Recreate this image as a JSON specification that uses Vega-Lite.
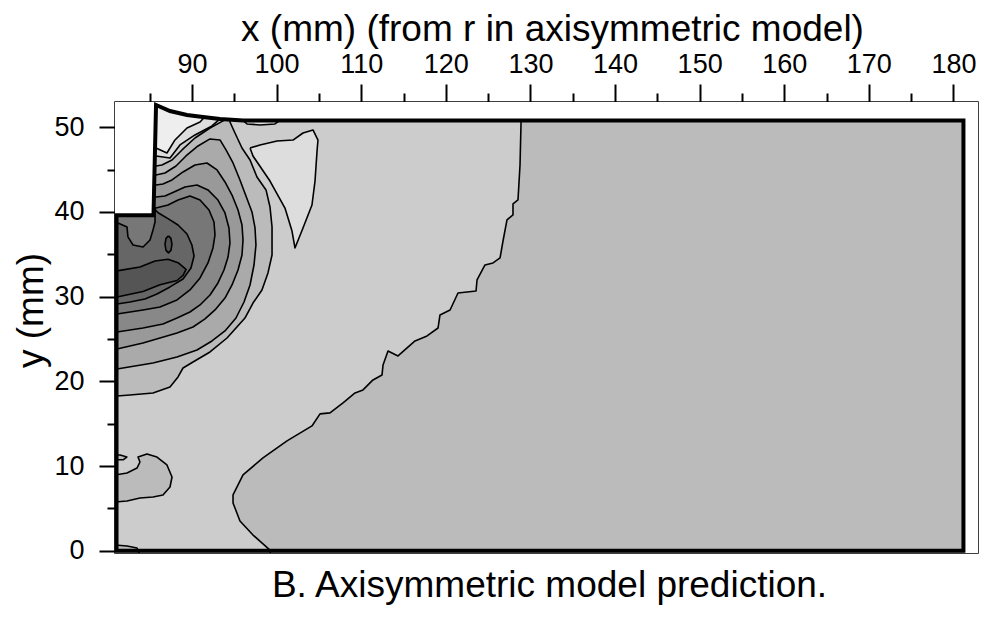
{
  "$schema": "https://vega.github.io/schema/vega-lite/v6.json",
  "width": 863,
  "height": 451,
  "autosize": {"type": "none"},
  "padding": {"left": 115, "top": 102, "right": 8, "bottom": 66},
  "background": "white",
  "title": {
    "text": "B. Axisymmetric model prediction.",
    "orient": "bottom",
    "anchor": "middle",
    "frame": "group",
    "offset": 4,
    "dx": 3,
    "font": "Liberation Sans",
    "fontSize": 37,
    "fontWeight": "normal",
    "color": "black"
  },
  "config": {
    "view": {"stroke": "black", "strokeWidth": 1.5},
    "axis": {
      "domain": false,
      "grid": false,
      "tickColor": "black",
      "tickWidth": 2,
      "labelFont": "Liberation Sans",
      "labelFontSize": 27,
      "labelColor": "black",
      "labelOverlap": false,
      "labelFlush": false,
      "titleFont": "Liberation Sans",
      "titleFontSize": 37,
      "titleFontWeight": "normal",
      "titleColor": "black"
    }
  },
  "data": {
    "values": [
      {"s":"base","k":0,"x":78,"y":-2},{"s":"base","k":1,"x":181.18,"y":-2},{"s":"base","k":2,"x":181.18,"y":52},{"s":"base","k":3,"x":78,"y":52},{"s":"base","k":4,"x":78,"y":-2},

      {"s":"L1","k":0,"x":79,"y":-2},{"s":"L1","k":1,"x":99.4,"y":-2},{"s":"L1","k":2,"x":99.22,"y":0.08},{"s":"L1","k":3,"x":97.21,"y":1.85},{"s":"L1","k":4,"x":95.67,"y":3.51},{"s":"L1","k":5,"x":94.85,"y":5.64},{"s":"L1","k":6,"x":94.85,"y":6.59},{"s":"L1","k":7,"x":96.03,"y":8.95},{"s":"L1","k":8,"x":98.39,"y":10.95},{"s":"L1","k":9,"x":101.23,"y":12.96},{"s":"L1","k":10,"x":104.18,"y":14.73},{"s":"L1","k":11,"x":105.13,"y":16.15},{"s":"L1","k":12,"x":106.31,"y":16.27},{"s":"L1","k":13,"x":107.85,"y":17.45},{"s":"L1","k":14,"x":109.27,"y":18.63},{"s":"L1","k":15,"x":110.21,"y":18.98},{"s":"L1","k":16,"x":111.39,"y":20.16},{"s":"L1","k":17,"x":112.46,"y":20.75},{"s":"L1","k":18,"x":112.58,"y":21.93},{"s":"L1","k":19,"x":113.17,"y":23.58},{"s":"L1","k":20,"x":114.35,"y":22.99},{"s":"L1","k":21,"x":116.36,"y":24.76},{"s":"L1","k":22,"x":117.78,"y":25.35},{"s":"L1","k":23,"x":119.08,"y":26.29},{"s":"L1","k":24,"x":119.31,"y":27.83},{"s":"L1","k":25,"x":120.5,"y":28.42},{"s":"L1","k":26,"x":121.44,"y":30.42},{"s":"L1","k":27,"x":123.57,"y":30.66},{"s":"L1","k":28,"x":123.69,"y":31.96},{"s":"L1","k":29,"x":124.63,"y":33.73},{"s":"L1","k":30,"x":125.58,"y":33.97},{"s":"L1","k":31,"x":126.41,"y":34.56},{"s":"L1","k":32,"x":126.76,"y":36.56},{"s":"L1","k":33,"x":127.23,"y":39.05},{"s":"L1","k":34,"x":127.94,"y":39.64},{"s":"L1","k":35,"x":127.94,"y":40.94},{"s":"L1","k":36,"x":128.53,"y":41.41},{"s":"L1","k":37,"x":128.77,"y":45.54},{"s":"L1","k":38,"x":128.89,"y":50.49},{"s":"L1","k":39,"x":128.9,"y":52},{"s":"L1","k":40,"x":79,"y":52},{"s":"L1","k":41,"x":79,"y":-2},

      {"s":"L2t","k":0,"x":96.86,"y":47.53},{"s":"L2t","k":1,"x":97.21,"y":46.59},{"s":"L2t","k":2,"x":99.22,"y":43.64},{"s":"L2t","k":3,"x":100.99,"y":40.45},{"s":"L2t","k":4,"x":101.82,"y":37.74},{"s":"L2t","k":5,"x":102.17,"y":35.74},{"s":"L2t","k":6,"x":103.12,"y":38.1},{"s":"L2t","k":7,"x":104.18,"y":40.81},{"s":"L2t","k":8,"x":104.54,"y":43.64},{"s":"L2t","k":9,"x":104.78,"y":47.18},{"s":"L2t","k":10,"x":104.89,"y":48.48},{"s":"L2t","k":11,"x":104.3,"y":49.67},{"s":"L2t","k":12,"x":103.12,"y":49.31},{"s":"L2t","k":13,"x":101.94,"y":48.48},{"s":"L2t","k":14,"x":100.05,"y":48.37},{"s":"L2t","k":15,"x":98.04,"y":47.9},{"s":"L2t","k":16,"x":96.86,"y":47.53},

      {"s":"L2l","k":0,"x":96.0,"y":51.5},{"s":"L2l","k":1,"x":96.03,"y":50.8},{"s":"L2l","k":2,"x":96.5,"y":50.38},{"s":"L2l","k":3,"x":98.04,"y":50.26},{"s":"L2l","k":4,"x":99.81,"y":50.38},{"s":"L2l","k":5,"x":100.4,"y":50.8},{"s":"L2l","k":6,"x":100.4,"y":51.5},{"s":"L2l","k":7,"x":96.0,"y":51.5},

      {"s":"L2b","k":0,"x":84,"y":46.6},{"s":"L2b","k":1,"x":85.74,"y":46.6},{"s":"L2b","k":2,"x":87.4,"y":46.36},{"s":"L2b","k":3,"x":88.58,"y":47.9},{"s":"L2b","k":4,"x":90.35,"y":49.08},{"s":"L2b","k":5,"x":92.36,"y":50.14},{"s":"L2b","k":6,"x":93.31,"y":50.97},{"s":"L2b","k":7,"x":93.5,"y":53},{"s":"L2b","k":8,"x":84,"y":53},{"s":"L2b","k":9,"x":84,"y":46.6},

      {"s":"r1","k":0,"x":79,"y":18.26},{"s":"r1","k":1,"x":81.13,"y":18.26},{"s":"r1","k":2,"x":82.67,"y":18.38},{"s":"r1","k":3,"x":85.39,"y":18.62},{"s":"r1","k":4,"x":87.4,"y":19.33},{"s":"r1","k":5,"x":88.35,"y":20.51},{"s":"r1","k":6,"x":88.94,"y":21.57},{"s":"r1","k":7,"x":90.12,"y":22.28},{"s":"r1","k":8,"x":92.13,"y":23.46},{"s":"r1","k":9,"x":94.14,"y":25.11},{"s":"r1","k":10,"x":96.26,"y":27.47},{"s":"r1","k":11,"x":97.21,"y":29.24},{"s":"r1","k":12,"x":98.27,"y":30.78},{"s":"r1","k":13,"x":98.98,"y":32.79},{"s":"r1","k":14,"x":99.46,"y":34.91},{"s":"r1","k":15,"x":99.46,"y":38.22},{"s":"r1","k":16,"x":99.22,"y":40.58},{"s":"r1","k":17,"x":98.75,"y":42.59},{"s":"r1","k":18,"x":97.68,"y":44.12},{"s":"r1","k":19,"x":96.86,"y":46.13},{"s":"r1","k":20,"x":95.91,"y":47.54},{"s":"r1","k":21,"x":95.08,"y":49.31},{"s":"r1","k":22,"x":94.49,"y":50.61},{"s":"r1","k":23,"x":94.5,"y":53},{"s":"r1","k":24,"x":93.7,"y":53},{"s":"r1","k":25,"x":93.78,"y":50.8},{"s":"r1","k":26,"x":92.13,"y":49.9},{"s":"r1","k":27,"x":90.35,"y":48.72},{"s":"r1","k":28,"x":88.82,"y":47.31},{"s":"r1","k":29,"x":87.64,"y":46.13},{"s":"r1","k":30,"x":86.45,"y":45.54},{"s":"r1","k":31,"x":85.74,"y":45.42},{"s":"r1","k":32,"x":79,"y":45.42},{"s":"r1","k":33,"x":79,"y":18.26},

      {"s":"r1a","k":0,"x":79,"y":8.94},{"s":"r1a","k":1,"x":80.9,"y":8.94},{"s":"r1a","k":2,"x":82.32,"y":9.17},{"s":"r1a","k":3,"x":83.5,"y":9.76},{"s":"r1a","k":4,"x":83.85,"y":10.47},{"s":"r1a","k":5,"x":83.62,"y":11.06},{"s":"r1a","k":6,"x":84.68,"y":11.42},{"s":"r1a","k":7,"x":85.86,"y":11.06},{"s":"r1a","k":8,"x":87.04,"y":10.12},{"s":"r1a","k":9,"x":87.64,"y":8.7},{"s":"r1a","k":10,"x":87.4,"y":7.52},{"s":"r1a","k":11,"x":86.57,"y":6.57},{"s":"r1a","k":12,"x":85.39,"y":6.34},{"s":"r1a","k":13,"x":83.85,"y":6.22},{"s":"r1a","k":14,"x":82.32,"y":5.87},{"s":"r1a","k":15,"x":80.9,"y":5.75},{"s":"r1a","k":16,"x":79,"y":5.75},{"s":"r1a","k":17,"x":79,"y":8.94},

      {"s":"r1b","k":0,"x":79,"y":11.3},{"s":"r1b","k":1,"x":81.5,"y":11.3},{"s":"r1b","k":2,"x":82.3,"y":11.06},{"s":"r1b","k":3,"x":81.9,"y":10.75},{"s":"r1b","k":4,"x":79,"y":10.71},{"s":"r1b","k":5,"x":79,"y":11.3},

      {"s":"r1c","k":0,"x":79,"y":0.67},{"s":"r1c","k":1,"x":80.9,"y":0.67},{"s":"r1c","k":2,"x":82.32,"y":0.55},{"s":"r1c","k":3,"x":83.5,"y":0.32},{"s":"r1c","k":4,"x":83.85,"y":-0.5},{"s":"r1c","k":5,"x":79,"y":-0.5},{"s":"r1c","k":6,"x":79,"y":0.67},

      {"s":"L3","k":0,"x":84,"y":47.54},{"s":"L3","k":1,"x":85.74,"y":47.54},{"s":"L3","k":2,"x":87.04,"y":46.95},{"s":"L3","k":3,"x":87.99,"y":48.49},{"s":"L3","k":4,"x":89.41,"y":49.9},{"s":"L3","k":5,"x":90.95,"y":50.6},{"s":"L3","k":6,"x":91.5,"y":51.2},{"s":"L3","k":7,"x":91.6,"y":53},{"s":"L3","k":8,"x":84,"y":53},{"s":"L3","k":9,"x":84,"y":47.54},

      {"s":"r2","k":0,"x":79,"y":21.45},{"s":"r2","k":1,"x":81.13,"y":21.45},{"s":"r2","k":2,"x":85.39,"y":22.16},{"s":"r2","k":3,"x":88.23,"y":22.87},{"s":"r2","k":4,"x":90.59,"y":23.7},{"s":"r2","k":5,"x":92.36,"y":24.76},{"s":"r2","k":6,"x":93.9,"y":25.94},{"s":"r2","k":7,"x":95.2,"y":27.47},{"s":"r2","k":8,"x":96.15,"y":29.36},{"s":"r2","k":9,"x":96.86,"y":31.37},{"s":"r2","k":10,"x":97.33,"y":33.73},{"s":"r2","k":11,"x":97.56,"y":36.09},{"s":"r2","k":12,"x":97.45,"y":38.1},{"s":"r2","k":13,"x":97.09,"y":39.99},{"s":"r2","k":14,"x":96.38,"y":41.88},{"s":"r2","k":15,"x":95.67,"y":43.77},{"s":"r2","k":16,"x":94.85,"y":45.77},{"s":"r2","k":17,"x":94.02,"y":47.31},{"s":"r2","k":18,"x":93.31,"y":48.49},{"s":"r2","k":19,"x":92.13,"y":48.61},{"s":"r2","k":20,"x":90.71,"y":47.78},{"s":"r2","k":21,"x":89.29,"y":46.6},{"s":"r2","k":22,"x":88.11,"y":45.42},{"s":"r2","k":23,"x":86.81,"y":44.59},{"s":"r2","k":24,"x":85.74,"y":44.36},{"s":"r2","k":25,"x":79,"y":44.36},{"s":"r2","k":26,"x":79,"y":21.45},

      {"s":"r3","k":0,"x":79,"y":23.82},{"s":"r3","k":1,"x":81.13,"y":23.82},{"s":"r3","k":2,"x":84.21,"y":24.52},{"s":"r3","k":3,"x":86.22,"y":25.11},{"s":"r3","k":4,"x":88.23,"y":25.7},{"s":"r3","k":5,"x":90.12,"y":26.41},{"s":"r3","k":6,"x":91.54,"y":27.36},{"s":"r3","k":7,"x":92.72,"y":28.42},{"s":"r3","k":8,"x":93.9,"y":29.83},{"s":"r3","k":9,"x":94.73,"y":31.37},{"s":"r3","k":10,"x":95.44,"y":33.14},{"s":"r3","k":11,"x":95.91,"y":34.91},{"s":"r3","k":12,"x":96.03,"y":36.68},{"s":"r3","k":13,"x":95.91,"y":38.45},{"s":"r3","k":14,"x":95.44,"y":40.22},{"s":"r3","k":15,"x":94.73,"y":41.99},{"s":"r3","k":16,"x":93.9,"y":43.53},{"s":"r3","k":17,"x":92.96,"y":44.95},{"s":"r3","k":18,"x":91.77,"y":45.77},{"s":"r3","k":19,"x":90.35,"y":45.54},{"s":"r3","k":20,"x":88.94,"y":44.71},{"s":"r3","k":21,"x":87.64,"y":43.77},{"s":"r3","k":22,"x":86.57,"y":43.29},{"s":"r3","k":23,"x":85.74,"y":43.18},{"s":"r3","k":24,"x":79,"y":43.18},{"s":"r3","k":25,"x":79,"y":23.82},

      {"s":"r4","k":0,"x":79,"y":25.82},{"s":"r4","k":1,"x":81.13,"y":25.82},{"s":"r4","k":2,"x":84.21,"y":26.29},{"s":"r4","k":3,"x":86.57,"y":26.76},{"s":"r4","k":4,"x":88.23,"y":27.47},{"s":"r4","k":5,"x":89.76,"y":28.18},{"s":"r4","k":6,"x":90.95,"y":29.01},{"s":"r4","k":7,"x":92.13,"y":30.19},{"s":"r4","k":8,"x":93.07,"y":31.61},{"s":"r4","k":9,"x":93.78,"y":33.14},{"s":"r4","k":10,"x":94.26,"y":34.67},{"s":"r4","k":11,"x":94.49,"y":36.33},{"s":"r4","k":12,"x":94.37,"y":38.1},{"s":"r4","k":13,"x":93.9,"y":39.87},{"s":"r4","k":14,"x":93.07,"y":41.4},{"s":"r4","k":15,"x":91.89,"y":42.59},{"s":"r4","k":16,"x":90.59,"y":43.18},{"s":"r4","k":17,"x":89.17,"y":42.94},{"s":"r4","k":18,"x":87.87,"y":42.35},{"s":"r4","k":19,"x":86.81,"y":41.88},{"s":"r4","k":20,"x":85.74,"y":41.76},{"s":"r4","k":21,"x":79,"y":41.76},{"s":"r4","k":22,"x":79,"y":25.82},

      {"s":"r5","k":0,"x":79,"y":27.95},{"s":"r5","k":1,"x":81.13,"y":27.95},{"s":"r5","k":2,"x":84.21,"y":28.42},{"s":"r5","k":3,"x":86.22,"y":28.77},{"s":"r5","k":4,"x":88.23,"y":29.6},{"s":"r5","k":5,"x":89.76,"y":30.78},{"s":"r5","k":6,"x":90.95,"y":32.2},{"s":"r5","k":7,"x":91.89,"y":33.97},{"s":"r5","k":8,"x":92.48,"y":35.74},{"s":"r5","k":9,"x":92.72,"y":37.27},{"s":"r5","k":10,"x":92.6,"y":38.81},{"s":"r5","k":11,"x":92.01,"y":40.22},{"s":"r5","k":12,"x":90.95,"y":41.4},{"s":"r5","k":13,"x":89.76,"y":41.88},{"s":"r5","k":14,"x":88.35,"y":41.4},{"s":"r5","k":15,"x":87.16,"y":40.81},{"s":"r5","k":16,"x":86.22,"y":40.58},{"s":"r5","k":17,"x":85.74,"y":40.46},{"s":"r5","k":18,"x":79,"y":40.46},{"s":"r5","k":19,"x":79,"y":27.95},

      {"s":"r6","k":0,"x":79,"y":29.13},{"s":"r6","k":1,"x":81.13,"y":29.13},{"s":"r6","k":2,"x":82.67,"y":29.36},{"s":"r6","k":3,"x":84.44,"y":29.72},{"s":"r6","k":4,"x":85.86,"y":30.31},{"s":"r6","k":5,"x":87.4,"y":31.14},{"s":"r6","k":6,"x":88.94,"y":32.08},{"s":"r6","k":7,"x":89.88,"y":33.38},{"s":"r6","k":8,"x":90.24,"y":34.79},{"s":"r6","k":9,"x":89.99,"y":36.09},{"s":"r6","k":10,"x":89.41,"y":37.39},{"s":"r6","k":11,"x":88.35,"y":38.45},{"s":"r6","k":12,"x":87.16,"y":39.2},{"s":"r6","k":13,"x":86.0,"y":39.9},{"s":"r6","k":14,"x":85.6,"y":40.3},{"s":"r6","k":15,"x":79,"y":40.3},{"s":"r6","k":16,"x":79,"y":29.13},

      {"s":"dot","k":0,"x":79,"y":38.69},{"s":"dot","k":1,"x":81.25,"y":38.69},{"s":"dot","k":2,"x":82.32,"y":38.22},{"s":"dot","k":3,"x":82.43,"y":37.04},{"s":"dot","k":4,"x":83.03,"y":36.09},{"s":"dot","k":5,"x":84.21,"y":35.85},{"s":"dot","k":6,"x":85.04,"y":36.68},{"s":"dot","k":7,"x":85.39,"y":37.86},{"s":"dot","k":8,"x":85.63,"y":38.81},{"s":"dot","k":9,"x":85.63,"y":40.5},{"s":"dot","k":10,"x":79,"y":40.5},{"s":"dot","k":11,"x":79,"y":38.69},

      {"s":"r7","k":0,"x":79,"y":33.03},{"s":"r7","k":1,"x":81.13,"y":33.03},{"s":"r7","k":2,"x":83.85,"y":33.5},{"s":"r7","k":3,"x":85.63,"y":34.2},{"s":"r7","k":4,"x":87.16,"y":34.4},{"s":"r7","k":5,"x":88.35,"y":34.0},{"s":"r7","k":6,"x":89.3,"y":33.2},{"s":"r7","k":7,"x":88.94,"y":32.5},{"s":"r7","k":8,"x":88.23,"y":31.9},{"s":"r7","k":9,"x":86.22,"y":31.4},{"s":"r7","k":10,"x":84.21,"y":30.6},{"s":"r7","k":11,"x":81.13,"y":29.95},{"s":"r7","k":12,"x":79,"y":29.95},{"s":"r7","k":13,"x":79,"y":33.03},

      {"s":"e","k":0,"x":87.22,"y":37.16},{"s":"e","k":1,"x":87.51,"y":36.87},{"s":"e","k":2,"x":87.63,"y":36.16},{"s":"e","k":3,"x":87.51,"y":35.45},{"s":"e","k":4,"x":87.22,"y":35.16},{"s":"e","k":5,"x":86.93,"y":35.45},{"s":"e","k":6,"x":86.81,"y":36.16},{"s":"e","k":7,"x":86.93,"y":36.87},{"s":"e","k":8,"x":87.22,"y":37.16},

      {"s":"mask","k":0,"x":70,"y":39.6},{"s":"mask","k":1,"x":85.45,"y":39.6},{"s":"mask","k":2,"x":85.75,"y":52.62},{"s":"mask","k":3,"x":87.4,"y":51.91},{"s":"mask","k":4,"x":89.41,"y":51.44},{"s":"mask","k":5,"x":91.3,"y":51.21},{"s":"mask","k":6,"x":93.31,"y":50.97},{"s":"mask","k":7,"x":96.03,"y":50.8},{"s":"mask","k":8,"x":100,"y":50.78},{"s":"mask","k":9,"x":181.18,"y":50.78},{"s":"mask","k":10,"x":181.18,"y":-3},{"s":"mask","k":11,"x":190,"y":-3},{"s":"mask","k":12,"x":190,"y":60},{"s":"mask","k":13,"x":70,"y":60},{"s":"mask","k":14,"x":70,"y":39.6},

      {"s":"outline","k":0,"x":81.08,"y":0},{"s":"outline","k":1,"x":81.08,"y":39.6},{"s":"outline","k":2,"x":85.45,"y":39.6},{"s":"outline","k":3,"x":85.75,"y":52.62},{"s":"outline","k":4,"x":87.4,"y":51.91},{"s":"outline","k":5,"x":89.41,"y":51.44},{"s":"outline","k":6,"x":91.3,"y":51.21},{"s":"outline","k":7,"x":93.31,"y":50.97},{"s":"outline","k":8,"x":96.03,"y":50.8},{"s":"outline","k":9,"x":100,"y":50.78},{"s":"outline","k":10,"x":181.18,"y":50.78},{"s":"outline","k":11,"x":181.18,"y":0},{"s":"outline","k":12,"x":81.08,"y":0}
    ]
  },
  "encoding": {
    "x": {
      "field": "x",
      "type": "quantitative",
      "scale": {"domain": [80.9, 182.9], "nice": false, "zero": false},
      "axis": {
        "orient": "top",
        "title": "x (mm) (from r in axisymmetric model)",
        "values": [85,90,95,100,105,110,115,120,125,130,135,140,145,150,155,160,165,170,175,180],
        "labelExpr": "datum.value % 10 === 0 ? datum.label : ''",
        "tickSize": {"condition": {"test": "datum.value % 10 === 0", "value": 18}, "value": 9},
        "labelPadding": 6,
        "titleX": 437,
        "titleY": -62,
        "titleAlign": "center",
        "titleBaseline": "alphabetic"
      }
    },
    "y": {
      "field": "y",
      "type": "quantitative",
      "scale": {"domain": [-0.27, 52.97], "nice": false, "zero": false},
      "axis": {
        "orient": "left",
        "title": "y (mm)",
        "values": [0,5,10,15,20,25,30,35,40,45,50],
        "labelExpr": "datum.value % 10 === 0 ? datum.label : ''",
        "tickSize": {"condition": {"test": "datum.value % 10 === 0", "value": 16}, "value": 8},
        "labelPadding": 15,
        "titleX": -73,
        "titleY": 208,
        "titleAngle": 270,
        "titleAlign": "center",
        "titleBaseline": "alphabetic"
      }
    },
    "order": {"field": "k", "type": "quantitative"},
    "detail": {"field": "s", "type": "nominal"},
    "fill": {
      "field": "s",
      "type": "nominal",
      "legend": null,
      "scale": {
        "domain": ["base","L1","L2t","L2l","L2b","L3","r1","r1a","r1b","r1c","r2","r3","r4","r5","r6","dot","r7","e","mask","outline"],
        "range": ["#bbbbbb","#cccccc","#dddddd","#dddddd","#dddddd","#eeeeee","#bbbbbb","#bbbbbb","#bbbbbb","#bbbbbb","#aaaaaa","#999999","#888888","#777777","#666666","#777777","#555555","#555555","#ffffff","#ffffff"]
      }
    }
  },
  "layer": [
    {"transform": [{"filter": {"field": "s", "equal": "base"}}], "mark": {"type": "line", "clip": true, "strokeWidth": 0}},
    {"transform": [{"filter": {"field": "s", "equal": "L1"}}], "mark": {"type": "line", "clip": true, "stroke": "black", "strokeWidth": 1.6, "strokeJoin": "round"}},
    {"transform": [{"filter": {"field": "s", "oneOf": ["L2t","L2l","L2b","r1","r1a","r1b","r1c"]}}], "mark": {"type": "line", "clip": true, "stroke": "black", "strokeWidth": 1.6, "strokeJoin": "round"}},
    {"transform": [{"filter": {"field": "s", "oneOf": ["L3","r2"]}}], "mark": {"type": "line", "clip": true, "stroke": "black", "strokeWidth": 1.6, "strokeJoin": "round"}},
    {"transform": [{"filter": {"field": "s", "equal": "r3"}}], "mark": {"type": "line", "clip": true, "stroke": "black", "strokeWidth": 1.6, "strokeJoin": "round"}},
    {"transform": [{"filter": {"field": "s", "equal": "r4"}}], "mark": {"type": "line", "clip": true, "stroke": "black", "strokeWidth": 1.6, "strokeJoin": "round"}},
    {"transform": [{"filter": {"field": "s", "equal": "r5"}}], "mark": {"type": "line", "clip": true, "stroke": "black", "strokeWidth": 1.6, "strokeJoin": "round"}},
    {"transform": [{"filter": {"field": "s", "equal": "r6"}}], "mark": {"type": "line", "clip": true, "stroke": "black", "strokeWidth": 1.6, "strokeJoin": "round"}},
    {"transform": [{"filter": {"field": "s", "oneOf": ["dot","r7","e"]}}], "mark": {"type": "line", "clip": true, "stroke": "black", "strokeWidth": 1.6, "strokeJoin": "round"}},
    {"transform": [{"filter": {"field": "s", "equal": "mask"}}], "mark": {"type": "line", "clip": true, "strokeWidth": 0}},
    {"transform": [{"filter": {"field": "s", "equal": "outline"}}], "mark": {"type": "line", "clip": false, "stroke": "black", "strokeWidth": 4, "strokeJoin": "miter", "strokeCap": "square"}, "encoding": {"fill": {"value": "transparent"}}}
  ]
}
